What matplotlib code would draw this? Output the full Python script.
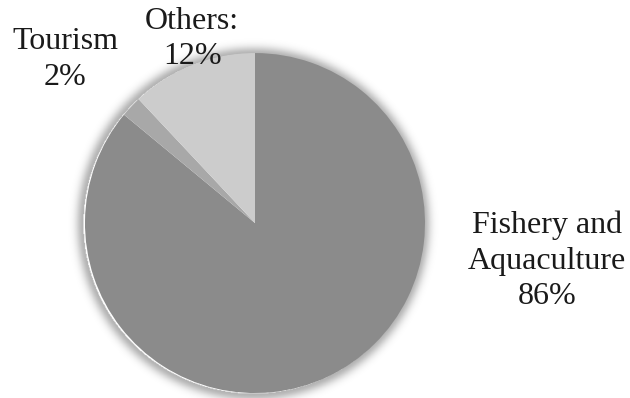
import numpy as np
import matplotlib.pyplot as plt

plt.rcParams.update({
    "font.family": "serif",
    "font.serif": ["Liberation Serif", "DejaVu Serif"],
})

sectors = ["Fishery and\nAquaculture", "Tourism", "Others:"]
shares = [86, 2, 12]
colors = ["#8b8b8b", "#a8a8a8", "#cccccc"]

fig = plt.figure(figsize=(6.30, 3.98), dpi=100)
ax = fig.add_axes([0, 0, 1, 1])

x0, x1 = -1.5, 2.206
y0, y1 = -1.029, 1.312

# soft glow around the pie
gx = np.linspace(x0, x1, 800)
gy = np.linspace(y0, y1, 500)
X, Y = np.meshgrid(gx, gy)
d = np.hypot(X + 0.01, Y + 0.005) - 1.0
glow = np.where(d > 0, 0.3 * np.exp(-(d / 0.045) ** 2), 0.0)
rgba = np.zeros(X.shape + (4,))
rgba[..., 3] = glow
ax.imshow(rgba, extent=(x0, x1, y0, y1), origin="lower",
          zorder=0, interpolation="bilinear")

ax.pie(shares, colors=colors, startangle=90, counterclock=False,
       radius=1.0, center=(0, 0), wedgeprops=dict(linewidth=0, zorder=1))

labels = [f"{s}\n{v}%" for s, v in zip(sectors, shares)]
label_pos = [(1.718, -0.224), (-1.118, 0.962), (-0.37, 1.082)]
for txt, (x, y) in zip(labels, label_pos):
    ax.text(x, y, txt, ha="center", va="center", fontsize=23,
            color="#1a1a1a", linespacing=1.3, zorder=3)

ax.set_xlim(x0, x1)
ax.set_ylim(y0, y1)
ax.set_aspect("equal")
ax.axis("off")

fig.savefig("out.png", dpi=100)
